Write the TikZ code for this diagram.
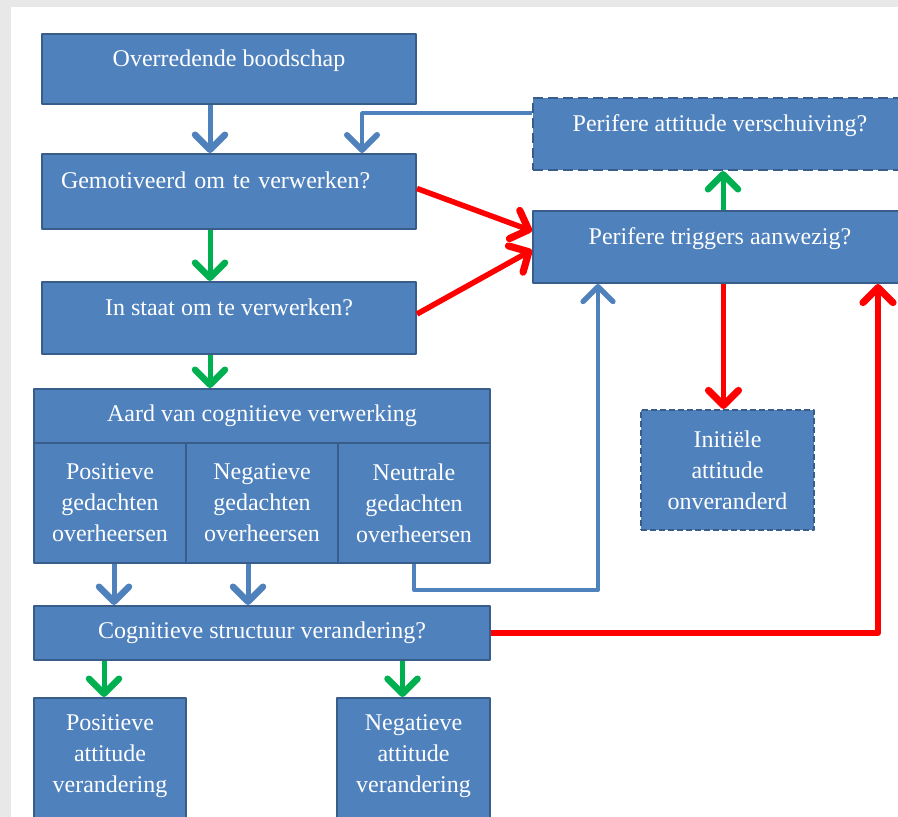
\documentclass[tikz,border=0pt]{standalone}
\usepackage{fontspec}
\setmainfont{Liberation Serif}
\usetikzlibrary{arrows.meta}
\definecolor{boxblue}{HTML}{4F81BD}
\definecolor{boxedge}{HTML}{385D8A}
\definecolor{okgreen}{HTML}{00B050}
\definecolor{pagegray}{HTML}{E8E8E8}

\begin{document}
\begin{tikzpicture}[x=1pt,y=-1pt,join=round,
  box/.style={rectangle,fill=boxblue,draw=boxedge,line width=2pt,text=white,align=center,inner sep=0pt,anchor=north west,font=\fontsize{24}{31}\selectfont},
  dashbox/.style={box,dash pattern=on 10pt off 5pt},
  upper/.style={text height=17pt,text depth=23pt},
  chevron/.style={-{Straight Barb[round,length=15pt,width=30pt,line width=0pt 1.3]}},
  bluearrow/.style={chevron,draw=boxblue,line width=5pt},
  thinarrow/.style={-{Straight Barb[round,length=15pt,width=30pt,line width=6pt]},draw=boxblue,line width=3.5pt},
  greenarrow/.style={chevron,draw=okgreen,line width=5pt},
  redarrow/.style={chevron,draw=red,line width=5.5pt}]
\useasboundingbox (0,0) rectangle (898,817);
\fill[pagegray] (0,0) rectangle (898,817);
\fill[white] (11,7) rectangle (898,817);

\node[box,upper,minimum width=374pt,minimum height=70pt] (overr) at (41,33) {Overredende boodschap};
\node[box,upper,text width=336pt,inner xsep=19pt,align=left,minimum height=75pt] (gemot) at (41,153) {Gemotiveerd om te verwerken?};
\node[box,upper,minimum width=374pt,minimum height=72pt] (instaat) at (41,281) {In staat om te verwerken?};
\node[box,minimum width=456pt,minimum height=54pt] (aard) at (33,388) {Aard van cognitieve verwerking};
\node[box,minimum width=152pt,minimum height=120pt] (pos) at (33,442) {Positieve\\gedachten\\overheersen};
\node[box,minimum width=152pt,minimum height=120pt] (neg) at (185,442) {Negatieve\\gedachten\\overheersen};
\node[box,minimum width=152pt,minimum height=120pt] (neut) at (337,442) {Neutrale\\gedachten\\overheersen};
\node[box,minimum width=456pt,minimum height=54pt] (cog) at (33,605) {Cognitieve structuur verandering?};
\node[box,text depth=22pt,minimum width=152pt,minimum height=133pt] (posatt) at (33,697) {Positieve\\attitude\\verandering};
\node[box,text depth=22pt,minimum width=153pt,minimum height=133pt] (negatt) at (336,697) {Negatieve\\attitude\\verandering};
\node[dashbox,upper,minimum width=374pt,minimum height=72pt] (perv) at (532,97) {Perifere attitude verschuiving?};
\node[box,upper,minimum width=374pt,minimum height=72pt] (trig) at (532,210) {Perifere triggers aanwezig?};
\node[dashbox,dash pattern=on 6pt off 3pt,minimum width=173pt,minimum height=120pt] (init) at (640,409) {Initiële\\attitude\\onveranderd};

\coordinate (pvturn) at (362,113);
\draw[thinarrow] (perv.west |- pvturn) -- (pvturn) -- (pvturn |- gemot.north);
\draw[bluearrow] ([xshift=-19pt]overr.south) -- ([xshift=-19pt]overr.south |- gemot.north);
\draw[greenarrow] ([xshift=-19pt]gemot.south) -- ([xshift=-19pt]gemot.south |- instaat.north);
\draw[greenarrow] ([xshift=-19pt]instaat.south) -- ([xshift=-19pt]instaat.south |- aard.north);
\draw[redarrow] ([yshift=3pt]gemot.east) -- ([yshift=16pt]trig.west);
\draw[redarrow] ([yshift=4pt]instaat.east) -- ([yshift=-3pt]trig.west);
\draw[bluearrow] ([xshift=4pt]pos.south) -- ([xshift=4pt]pos.south |- cog.north);
\draw[bluearrow] ([xshift=-14pt]neg.south) -- ([xshift=-14pt]neg.south |- cog.north);
\draw[bluearrow,line width=4pt] (neut.south) -- ++(0,26) -| ([xshift=66pt]trig.south west);
\draw[greenarrow] ([xshift=-6pt]posatt.north |- cog.south) -- ([xshift=-6pt]posatt.north);
\draw[greenarrow] ([xshift=-11pt]negatt.north |- cog.south) -- ([xshift=-11pt]negatt.north);
\draw[redarrow] (cog.east) -| ([xshift=346pt]trig.south west);
\draw[redarrow] ([xshift=-4pt]init.north |- trig.south) -- ([xshift=-4pt]init.north);
\draw[greenarrow] ([xshift=3pt]trig.north) -- ([xshift=3pt]perv.south);
\end{tikzpicture}
\end{document}
